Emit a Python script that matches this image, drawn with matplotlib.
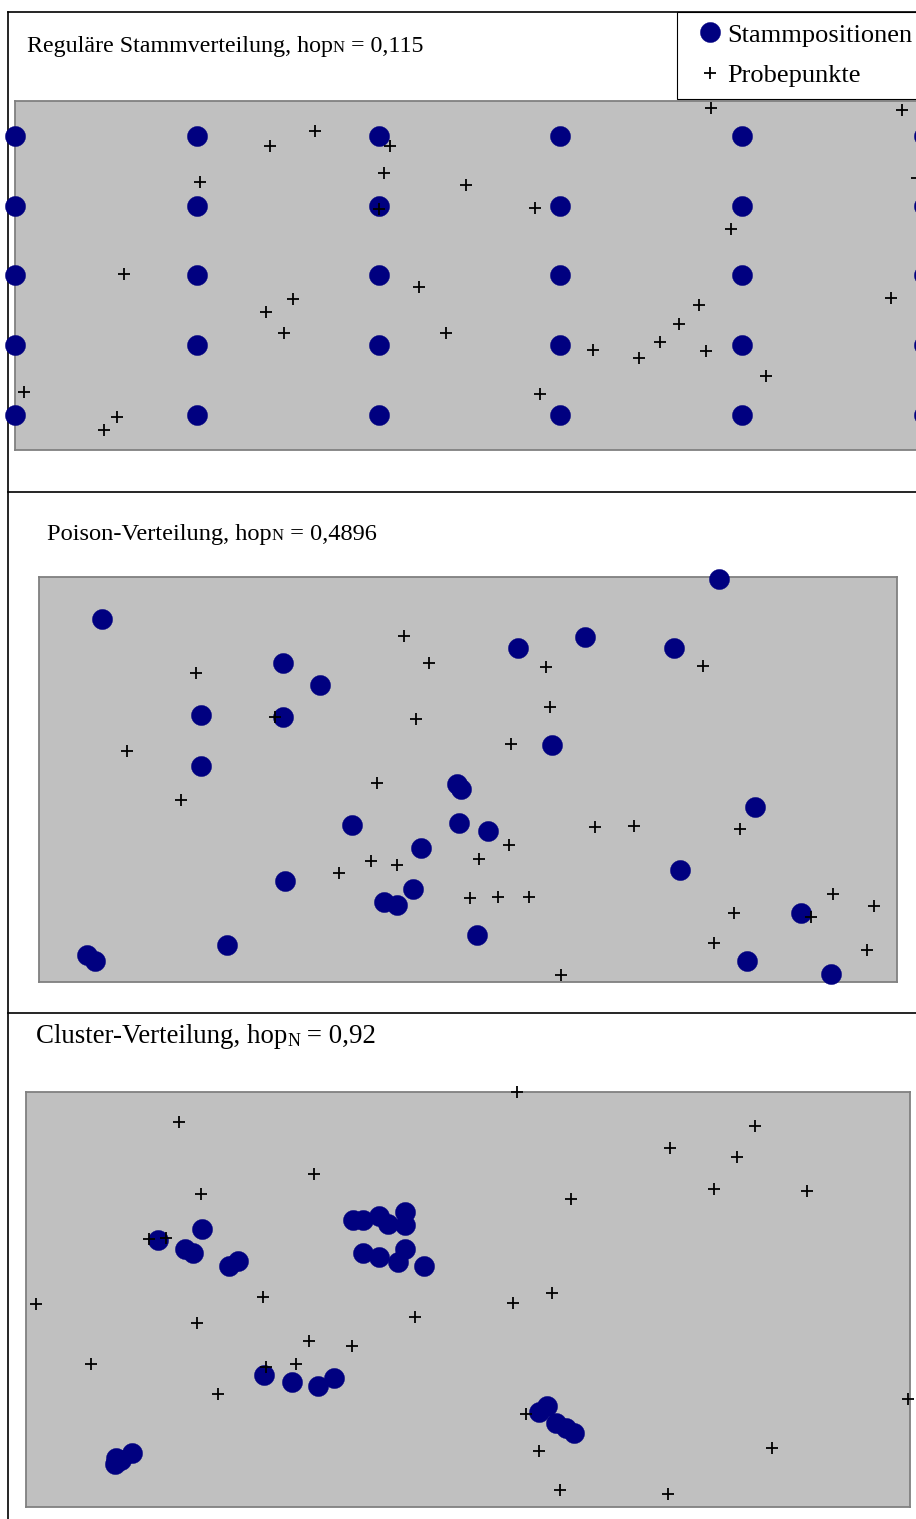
import numpy as np
import matplotlib
matplotlib.use('Agg')
import matplotlib.pyplot as plt

plt.rcParams['font.family'] = ['Liberation Serif', 'DejaVu Serif']

W, H = 916, 1519

# --- panel 1: regular stem grid (m), probe points
reg_cols = [0, 10, 20, 30, 40, 50]
reg_rows = [0, 10, 20, 30, 40]
reg_probe_x = [14.0, 16.5, 20.6, 10.2, 20.3, 20.0, 24.8, 28.6, 38.3, 48.8,
               49.6, 39.4, 6.0, 15.3, 13.8, 14.8, 22.2, 23.7, 37.6, 36.5,
               35.5, 34.3, 31.8, 38.0, 41.3, 48.2, 0.5, 5.6, 4.9, 28.9]
reg_probe_y = [38.6, 40.7, 38.6, 33.4, 34.7, 29.5, 33.0, 29.7, 44.0, 43.7,
               34.0, 26.7, 20.2, 16.6, 14.8, 11.8, 18.4, 11.8, 15.8, 13.1,
               10.5, 8.2, 9.3, 9.2, 5.6, 16.8, 3.3, -0.3, -2.2, 3.0]

# --- panel 2: Poisson distributed stems
poi_stem_x = [7.3, 28.4, 32.8, 18.9, 28.4, 18.9, 79.3, 55.8, 63.6, 74.0,
              59.8, 48.7, 49.2, 49.0, 36.5, 44.5, 28.7, 43.6, 40.2, 41.7,
              21.9, 5.6, 6.5, 52.3, 51.1, 83.5, 74.7, 88.8, 82.5, 92.3]
poi_stem_y = [44.8, 39.4, 36.7, 33.0, 32.7, 26.7, 49.8, 41.2, 42.6, 41.2,
              29.3, 24.4, 23.8, 19.6, 19.4, 16.5, 12.5, 11.5, 9.9, 9.5,
              4.6, 3.3, 2.6, 18.6, 5.8, 21.6, 13.8, 8.5, 2.6, 1.0]
poi_probe_x = [42.5, 45.5, 18.3, 27.5, 43.9, 10.3, 59.1, 77.4, 59.6, 55.0,
               16.6, 39.4, 38.7, 41.7, 35.0, 64.8, 69.4, 81.7, 54.8, 51.3,
               50.2, 53.5, 57.1, 92.5, 97.3, 81.0, 90.0, 78.7, 96.5, 60.8]
poi_probe_y = [42.7, 39.4, 38.2, 32.7, 32.5, 28.5, 38.9, 39.0, 34.0, 29.4,
               22.5, 24.6, 14.9, 14.4, 13.5, 19.1, 19.3, 18.9, 16.9, 15.2,
               10.4, 10.5, 10.5, 10.9, 9.4, 8.5, 8.0, 4.8, 4.0, 0.9]

# --- panel 3: clustered stems
clu_stem_x = [14.9, 19.9, 18.0, 18.9, 23.0, 24.0,
              37.0, 38.1, 39.9, 41.0, 42.9, 42.9, 38.1, 39.9, 42.1, 42.9, 45.0,
              26.9, 30.1, 33.0, 34.8,
              10.1, 10.2, 10.8, 12.0,
              58.0, 58.9, 60.0, 61.1, 62.0]
clu_stem_y = [32.2, 33.5, 31.1, 30.6, 29.0, 29.6,
              34.6, 34.6, 35.1, 34.1, 35.5, 34.0, 30.6, 30.1, 29.5, 31.1, 29.0,
              15.9, 15.1, 14.6, 15.5,
              5.2, 5.9, 5.7, 6.5,
              11.5, 12.2, 10.1, 9.5, 8.9]
clu_probe_x = [17.3, 32.6, 19.8, 13.9, 15.8, 55.5, 82.5, 72.9, 80.4, 77.8,
               88.4, 61.7, 1.1, 26.8, 19.3, 32.0, 36.9, 44.0, 7.4, 27.2,
               30.5, 21.7, 55.1, 59.5, 56.6, 58.0, 60.4, 72.6, 84.4, 99.8]
clu_probe_y = [46.4, 40.1, 37.7, 32.3, 32.4, 50.0, 45.9, 43.3, 42.2, 38.3,
               38.1, 37.1, 24.5, 25.3, 22.2, 20.0, 19.4, 22.9, 17.2, 16.9,
               17.2, 13.6, 24.6, 25.8, 11.2, 6.8, 2.1, 1.6, 7.1, 13.0]

titles = [('Reguläre Stammverteilung, hop', ' = 0,115', 17.3, 12, 27, 52, 0),
          ('Poison-Verteilung, hop', ' = 0,4896', 17.6, 12, 47, 540, 0),
          ('Cluster-Verteilung, hop', ' = 0,92', 19.4, 13, 36, 1043, 3)]

STEM = '#000080'
GRAY = '#c0c0c0'

fig = plt.figure(figsize=(W / 100, H / 100), dpi=100)

# background in pixel units for the frame lines and titles
bg = fig.add_axes([0, 0, 1, 1], zorder=-1)
bg.set_xlim(0, W)
bg.set_ylim(H, 0)
bg.axis('off')
bg.axvline(8, ymin=0, ymax=1 - 12 / H, color='black', lw=1.2)
for yy in [12, 492, 1013]:
    bg.axhline(yy, xmin=8 / W, xmax=1, color='black', lw=1.2)

for main, rest, fs, nfs, tx, ty, drop in titles:
    t = bg.text(tx, ty, main, fontsize=fs, va='baseline', ha='left')
    n = bg.annotate('N', xy=(1, ty + drop), xycoords=(t, 'data'),
                    fontsize=nfs, va='baseline', ha='left')
    bg.annotate(rest, xy=(1, ty), xycoords=(n, 'data'),
                fontsize=fs, va='baseline', ha='left')


def add_panel(x0, y0, x1, y1, xlim, ylim):
    ax = fig.add_axes([x0 / W, 1 - y1 / H, (x1 - x0) / W, (y1 - y0) / H])
    ax.set_facecolor(GRAY)
    ax.set_xlim(*xlim)
    ax.set_ylim(*ylim)
    ax.set_xticks([])
    ax.set_yticks([])
    for s in ax.spines.values():
        s.set_color('#808080')
        s.set_linewidth(1.3)
    return ax


def draw(ax, sx, sy, px, py):
    st, = ax.plot(sx, sy, 'o', ms=14.5, color=STEM, mec=STEM, mew=0.3,
                  clip_on=False, zorder=3)
    pr, = ax.plot(px, py, '+', ms=8.5, mew=1.3, color='black',
                  clip_on=False, zorder=4)
    return st, pr


ax1 = add_panel(15, 101, 935, 450, (0, 50.6), (-5, 45))
gx, gy = np.meshgrid(reg_cols, reg_rows)
stem_h, probe_h = draw(ax1, gx.ravel(), gy.ravel(), reg_probe_x, reg_probe_y)

ax2 = add_panel(39, 577, 897, 982, (0, 100), (0, 50))
draw(ax2, poi_stem_x, poi_stem_y, poi_probe_x, poi_probe_y)

ax3 = add_panel(26, 1092, 910, 1507, (0, 100), (0, 50))
draw(ax3, clu_stem_x, clu_stem_y, clu_probe_x, clu_probe_y)

leg = fig.legend([stem_h, probe_h], ['Stammpositionen', 'Probepunkte'],
                 loc='upper left', bbox_to_anchor=(677 / W, 1 - 12 / H),
                 borderaxespad=0, fancybox=False, edgecolor='black',
                 framealpha=1, fontsize=19, numpoints=1,
                 handlelength=1.66, handletextpad=-0.18, borderpad=0.42,
                 labelspacing=0.66)
leg.get_frame().set_linewidth(0.8)

fig.savefig('out.png', dpi=100)
